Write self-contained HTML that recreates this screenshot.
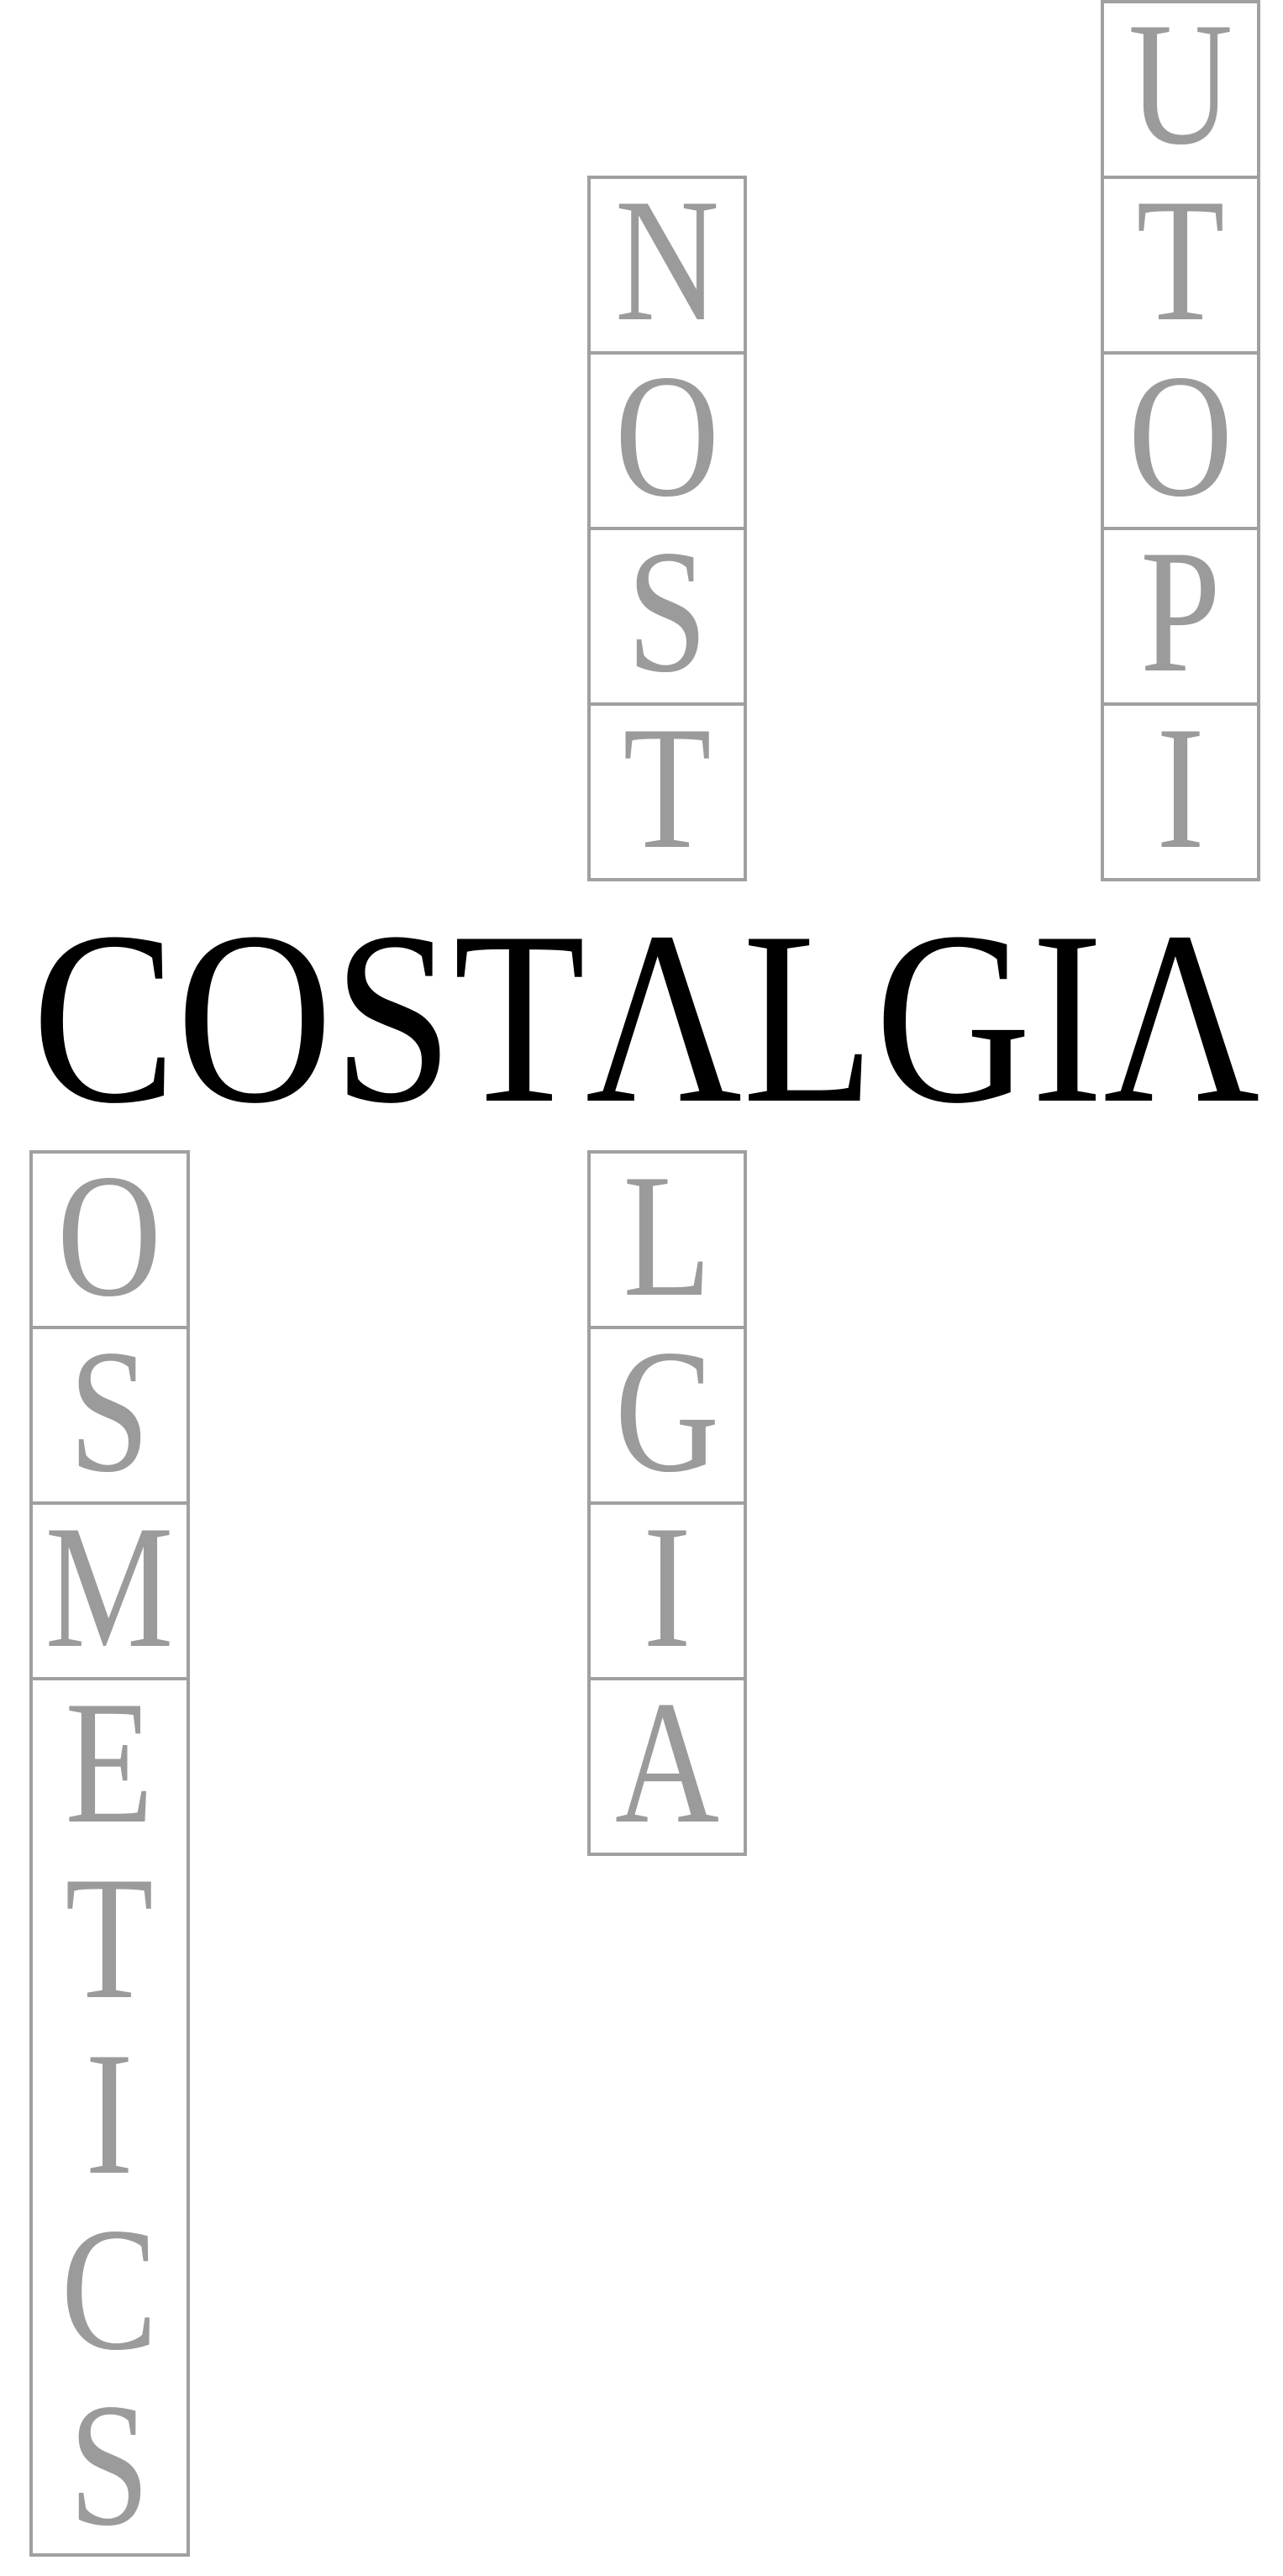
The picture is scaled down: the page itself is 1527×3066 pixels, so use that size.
<!DOCTYPE html>
<html>
<head>
<meta charset="utf-8">
<style>
html,body{margin:0;padding:0;background:#fff;}
svg{display:block;}
.c{fill:#fff;stroke:#a0a0a0;stroke-width:4;}
.l{fill:#9b9b9b;font-family:"Liberation Serif",serif;font-size:210px;text-anchor:middle;}
.big{fill:#000;font-family:"Liberation Serif",serif;font-size:294px;}
</style>
</head>
<body>
<svg width="1527" height="3066" viewBox="0 0 1527 3066" xmlns="http://www.w3.org/2000/svg">
<!-- UTOPI column -->
<rect class="c" x="1312" y="2" width="186" height="209"/>
<rect class="c" x="1312" y="211" width="186" height="209"/>
<rect class="c" x="1312" y="420" width="186" height="209"/>
<rect class="c" x="1312" y="629" width="186" height="209"/>
<rect class="c" x="1312" y="838" width="186" height="209"/>
<text class="l" transform="translate(1405,170) scale(0.82,1)">U</text>
<text class="l" transform="translate(1405,380) scale(0.82,1)">T</text>
<text class="l" transform="translate(1405,589) scale(0.82,1)">O</text>
<text class="l" transform="translate(1405,798) scale(0.82,1)">P</text>
<text class="l" transform="translate(1405,1008) scale(0.82,1)">I</text>

<!-- NOST column -->
<rect class="c" x="701" y="211" width="186" height="209"/>
<rect class="c" x="701" y="420" width="186" height="209"/>
<rect class="c" x="701" y="629" width="186" height="209"/>
<rect class="c" x="701" y="838" width="186" height="209"/>
<text class="l" transform="translate(794,380) scale(0.82,1)">N</text>
<text class="l" transform="translate(794,589) scale(0.82,1)">O</text>
<text class="l" transform="translate(794,798) scale(0.82,1)">S</text>
<text class="l" transform="translate(794,1008) scale(0.82,1)">T</text>

<!-- main word -->
<text class="big" x="38" y="1310" textLength="1462" lengthAdjust="spacingAndGlyphs">COSTΛLGIΛ</text>

<!-- OSMETICS column -->
<rect class="c" x="37" y="1371" width="187" height="209"/>
<rect class="c" x="37" y="1580" width="187" height="209"/>
<rect class="c" x="37" y="1789" width="187" height="209"/>
<rect class="c" x="37" y="1998" width="187" height="1043"/>
<text class="l" transform="translate(130,1541) scale(0.82,1)">O</text>
<text class="l" transform="translate(130,1750) scale(0.82,1)">S</text>
<text class="l" transform="translate(130,1959) scale(0.82,1)">M</text>
<text class="l" transform="translate(130,2168) scale(0.82,1)">E</text>
<text class="l" transform="translate(130,2377) scale(0.82,1)">T</text>
<text class="l" transform="translate(130,2586) scale(0.82,1)">I</text>
<text class="l" transform="translate(130,2795) scale(0.82,1)">C</text>
<text class="l" transform="translate(130,3004) scale(0.82,1)">S</text>

<!-- LGIA column -->
<rect class="c" x="701" y="1371" width="186" height="209"/>
<rect class="c" x="701" y="1580" width="186" height="209"/>
<rect class="c" x="701" y="1789" width="186" height="209"/>
<rect class="c" x="701" y="1998" width="186" height="209"/>
<text class="l" transform="translate(794,1541) scale(0.82,1)">L</text>
<text class="l" transform="translate(794,1750) scale(0.82,1)">G</text>
<text class="l" transform="translate(794,1959) scale(0.82,1)">I</text>
<text class="l" transform="translate(794,2168) scale(0.82,1)">A</text>
</svg>
</body>
</html>
